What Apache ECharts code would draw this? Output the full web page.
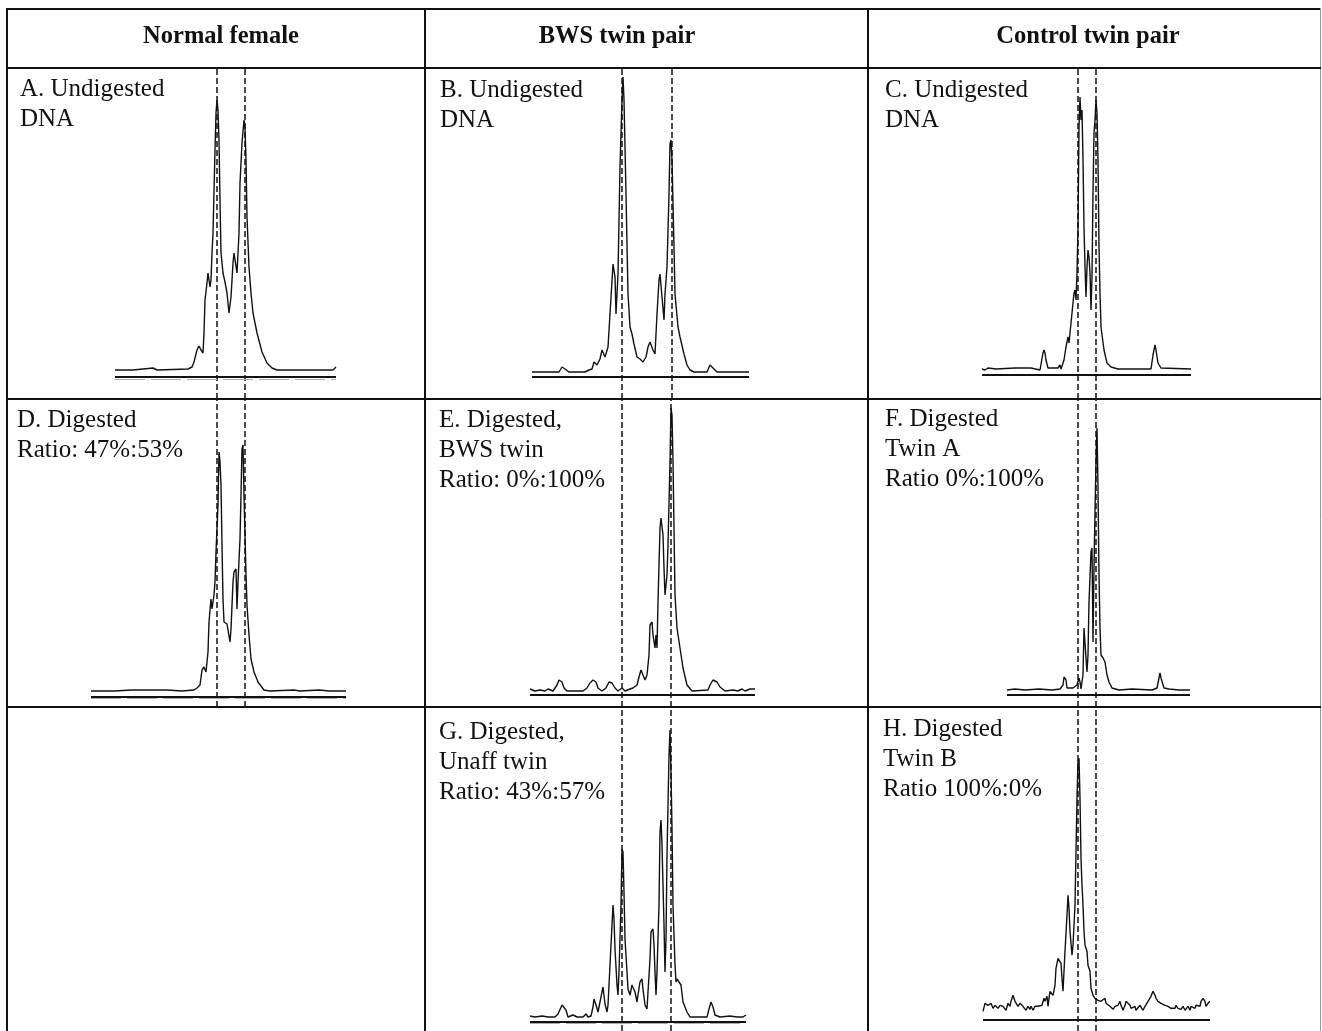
<!DOCTYPE html>
<html>
<head>
<meta charset="utf-8">
<script src="https://cdn.jsdelivr.net/npm/echarts@6/dist/echarts.min.js"></script>
<style>
html,body{margin:0;padding:0;background:#fff;}
#chart{width:1322px;height:1031px;}
</style>
</head>
<body>
<div id="chart"></div>
<script>
// ---------- DATA ----------
const headers = ['Normal female', 'BWS twin pair', 'Control twin pair'];
const panelLabels = [
  'A. Undigested\nDNA',
  'B. Undigested\nDNA',
  'C. Undigested\nDNA',
  'D. Digested\nRatio: 47%:53%',
  'E. Digested,\nBWS twin\nRatio: 0%:100%',
  'F. Digested\nTwin A\nRatio 0%:100%',
  'G. Digested,\nUnaff twin\nRatio: 43%:57%',
  'H. Digested\nTwin B\nRatio 100%:0%'
];

// traces: [scan position, signal]
const traceA = [[0,0],[18,0],[38,2],[42,0],[73,1],[77,3],[79,8],[82,20],[84,24],[86,20],[88,17],[89,37],[90,70],[92,87],[93,97],[95,83],[96,90],[97,117],[98,137],[100,220],[101,257],[102,270],[103,260],[104,230],[105,170],[106,117],[108,97],[110,88],[112,77],[114,57],[116,73],[118,107],[119,117],[121,117],[122,97],[124,137],[125,187],[127,227],[129,250],[130,243],[131,210],[132,153],[134,103],[136,77],[138,57],[142,37],[147,18],[152,7],[157,2],[162,0],[185,0],[187,2],[188,0],[218,0],[221,3]];
const traceB = [[0,0],[27,0],[30,5],[33,3],[37,0],[53,0],[57,2],[60,3],[62,10],[65,7],[68,13],[70,22],[72,24],[73,15],[76,25],[78,58],[81,108],[83,95],[84,58],[86,98],[88,205],[90,272],[91,295],[92,272],[94,178],[96,78],[98,45],[100,38],[102,28],[105,15],[108,13],[111,10],[114,15],[116,25],[118,30],[121,22],[123,18],[125,58],[127,92],[128,98],[130,98],[132,52],[133,78],[135,105],[137,178],[138,228],[139,232],[140,212],[142,125],[143,78],[146,45],[148,35],[152,18],[155,7],[158,2],[162,0],[175,0],[178,7],[182,3],[185,0],[217,0]];
const traceC = [[0,1],[3,0],[6,2],[14,1],[16,2],[33,2],[34,1],[49,2],[58,0],[59,2],[61,17],[62,20],[63,17],[64,10],[66,2],[76,2],[78,5],[79,1],[82,10],[84,23],[86,33],[87,27],[88,37],[90,57],[92,77],[93,80],[94,70],[95,97],[96,143],[97,243],[98,273],[99,250],[100,260],[101,210],[102,143],[103,103],[104,73],[105,103],[106,120],[107,113],[108,97],[109,60],[110,93],[111,177],[112,237],[113,250],[114,270],[115,257],[116,210],[117,123],[118,77],[119,43],[122,20],[125,7],[129,3],[136,1],[169,1],[171,15],[173,25],[174,20],[176,7],[179,2],[209,1]];
const traceD = [[0,0],[19,0],[21,1],[23,0],[41,1],[43,0],[76,1],[91,0],[103,1],[106,3],[109,6],[111,21],[113,24],[115,19],[117,39],[118,69],[120,92],[121,82],[123,96],[124,109],[125,139],[127,186],[128,239],[129,229],[130,206],[131,146],[132,92],[133,69],[136,67],[139,49],[140,62],[142,109],[143,119],[145,122],[146,82],[147,109],[149,152],[150,196],[151,242],[152,246],[153,196],[155,116],[156,86],[158,56],[160,32],[163,19],[167,9],[173,1],[179,0],[203,1],[209,0],[228,1],[238,0],[255,0]];
const traceE = [[0,1],[5,-1],[10,0],[15,-1],[18,1],[23,-1],[27,5],[29,10],[32,8],[34,2],[37,-1],[53,-1],[57,2],[60,7],[63,10],[66,8],[68,2],[72,-1],[76,2],[79,8],[82,7],[85,2],[88,-1],[92,2],[95,-1],[100,1],[103,2],[107,5],[109,13],[111,20],[113,15],[115,10],[117,15],[119,35],[120,65],[122,68],[123,55],[125,42],[126,55],[127,42],[128,88],[130,162],[131,172],[133,155],[134,122],[135,95],[137,115],[138,145],[140,228],[141,282],[142,275],[143,228],[144,162],[145,95],[147,62],[150,42],[153,22],[157,5],[162,-1],[178,0],[180,5],[183,10],[187,8],[190,3],[195,-1],[203,0],[208,-1],[212,1],[215,-1],[220,1],[225,1]];
const traceF = [[0,0],[8,1],[18,0],[32,1],[45,0],[53,1],[56,5],[57,13],[59,10],[60,2],[62,1],[66,2],[68,0],[70,5],[72,12],[73,8],[74,1],[76,15],[77,62],[78,62],[79,32],[80,18],[81,35],[82,88],[84,138],[85,142],[86,48],[87,122],[88,178],[89,228],[90,262],[91,202],[92,115],[93,62],[94,35],[96,32],[97,32],[98,28],[100,15],[102,8],[105,2],[112,0],[125,1],[145,0],[150,2],[152,12],[153,17],[154,12],[157,2],[162,1],[172,0],[183,0]];
const traceG = [[0,1],[5,0],[12,1],[18,0],[25,0],[28,3],[32,12],[34,13],[36,7],[38,0],[43,2],[47,0],[53,0],[56,3],[58,0],[61,1],[63,10],[64,18],[66,12],[68,5],[70,15],[73,30],[74,28],[75,13],[77,5],[78,12],[80,52],[82,92],[83,112],[84,98],[85,68],[87,32],[88,22],[89,45],[91,112],[92,168],[93,165],[94,125],[95,78],[97,45],[98,28],[100,22],[102,32],[103,33],[105,25],[107,15],[108,22],[110,35],[112,38],[113,28],[115,12],[117,8],[118,25],[120,58],[121,85],[123,88],[124,72],[125,45],[126,22],[127,45],[129,112],[130,185],[131,197],[132,172],[134,92],[135,45],[136,78],[137,162],[139,262],[140,287],[141,245],[142,188],[143,112],[145,52],[146,35],[147,38],[149,40],[151,32],[153,15],[157,5],[160,0],[177,0],[179,8],[181,15],[183,10],[185,2],[190,0],[200,1],[207,0],[213,0],[216,2]];
const traceH = [[0,-3],[2,5],[3,7],[5,3],[7,2],[8,5],[10,0],[12,3],[13,2],[15,0],[17,3],[18,5],[20,2],[22,3],[23,-2],[25,5],[27,2],[28,7],[30,13],[32,7],[33,5],[35,2],[37,5],[38,3],[40,2],[42,0],[43,-2],[45,2],[47,-1],[48,2],[50,-2],[52,2],[53,0],[55,2],[57,0],[59,3],[61,10],[62,7],[64,12],[65,2],[66,10],[67,17],[68,17],[70,13],[72,23],[73,40],[75,50],[77,52],[78,45],[79,30],[80,17],[81,37],[82,57],[84,93],[85,113],[86,100],[87,77],[89,53],[90,63],[91,83],[92,103],[93,157],[94,210],[95,247],[96,250],[97,210],[98,150],[99,123],[100,103],[101,77],[102,63],[104,57],[105,43],[107,37],[108,20],[110,13],[112,10],[113,8],[115,8],[117,10],[118,7],[120,7],[122,10],[123,5],[125,7],[127,2],[128,0],[130,-1],[132,2],[133,0],[135,3],[137,7],[138,3],[140,-2],[142,3],[143,7],[145,8],[147,3],[148,0],[152,2],[153,-2],[155,0],[157,3],[158,2],[160,-2],[162,2],[163,3],[165,7],[167,8],[168,12],[170,17],[172,13],[173,10],[175,7],[177,8],[178,5],[180,7],[182,3],[183,5],[185,2],[187,3],[188,0],[190,2],[192,0],[193,3],[195,0],[197,2],[198,-1],[200,2],[202,-2],[203,0],[205,2],[207,-2],[208,2],[210,3],[212,0],[213,3],[215,5],[217,2],[218,7],[220,10],[222,7],[223,2],[225,5],[227,7]];

// allele marker positions (dashed lines)
const allelesA = [101.7, 129.3];
const allelesB = [90, 139.3];
const allelesC = [95.3, 113.7];
const allelesD = [126, 153.3];
const allelesE = [91.7, 141];
const allelesF = [71, 89];
const allelesG = [91.7, 141];
const allelesH = [95, 113];

// ---------- LAYOUT ----------
const traces = [traceA, traceB, traceC, traceD, traceE, traceF, traceG, traceH];
const alleles = [allelesA, allelesB, allelesC, allelesD, allelesE, allelesF, allelesG, allelesH];
const layout = [
  {left:115, xmax:221, top:68,  bottom:399,  base:370,    ul:-6.7, gd:-9.3, lx:20,  ly:80},
  {left:532, xmax:217, top:68,  bottom:399,  base:372,    ul:-5,   gd:null, lx:440, ly:81.5},
  {left:982, xmax:209, top:68,  bottom:399,  base:370,    ul:-5,   gd:null, lx:885, ly:81.5},
  {left:91,  xmax:255, top:399, bottom:707,  base:691,    ul:-5.3, gd:-7.7, lx:17,  ly:411.5},
  {left:530, xmax:225, top:399, bottom:707,  base:690,    ul:-5,   gd:null, lx:439, ly:411.5},
  {left:1007,xmax:183, top:399, bottom:707,  base:690,    ul:-5,   gd:null, lx:885, ly:410},
  {left:530, xmax:216, top:707, bottom:1031, base:1017,   ul:-4.3, gd:-6.7, lx:439, ly:723},
  {left:983, xmax:227, top:707, bottom:1031, base:1008.3, ul:-11,  gd:null, lx:883, ly:720}
];
const headerPos = [221, 617, 1088];

const FONT = '"Liberation Serif", "Times New Roman", serif';
const chart = echarts.init(document.getElementById('chart'), null, {renderer:'canvas'});

const grids = [], xAxes = [], yAxes = [], series = [];
layout.forEach((p, i) => {
  grids.push({left:p.left, top:p.top, width:p.xmax, height:p.bottom - p.top});
  xAxes.push({type:'value', gridIndex:i, min:0, max:p.xmax, show:false});
  yAxes.push({type:'value', gridIndex:i, min:p.base - p.bottom, max:p.base - p.top, show:false});
  const ml = alleles[i].map(v => ({xAxis:v, lineStyle:{type:[6,3], width:1.5, color:'#111'}}));
  ml.push({yAxis:p.ul, lineStyle:{type:'solid', width:2, color:'#111'}});
  if (p.gd !== null) ml.push({yAxis:p.gd, lineStyle:{type:[30,6], width:1, color:'#aaa'}});
  series.push({
    type:'line', xAxisIndex:i, yAxisIndex:i, data:traces[i],
    showSymbol:false, symbol:'none', smooth:false,
    lineStyle:{color:'#111', width:1.4},
    silent:true,
    markLine:{silent:true, symbol:'none', label:{show:false}, data:ml}
  });
});

const graphics = [];
const L = (x1,y1,x2,y2,w,c) => graphics.push({type:'line', shape:{x1,y1,x2,y2}, style:{stroke:c||'#111', lineWidth:w||2}, silent:true});
L(6, 9, 1321, 9, 2);
L(7, 8, 7, 1031, 2);
L(1320.5, 8, 1320.5, 1031, 1, '#999');
L(6, 68, 1321, 68, 2);
L(6, 399, 1321, 399, 2);
L(6, 707, 1321, 707, 2);
L(425, 8, 425, 1031, 2);
L(868, 8, 868, 1031, 2);

headers.forEach((h, i) => {
  graphics.push({type:'text', x:headerPos[i], y:37, silent:true,
    style:{text:h, font:'bold 24.5px ' + FONT, fill:'#111', textAlign:'center', textVerticalAlign:'middle'}});
});
panelLabels.forEach((t, i) => {
  graphics.push({type:'text', x:layout[i].lx, y:layout[i].ly - 6, silent:true,
    style:{text:t, font:'25px ' + FONT, fill:'#111', textAlign:'left', textVerticalAlign:'top', lineHeight:30}});
});

chart.setOption({
  animation:false,
  backgroundColor:'#fff',
  grid:grids, xAxis:xAxes, yAxis:yAxes, series:series,
  graphic:graphics
});
</script>
</body>
</html>
